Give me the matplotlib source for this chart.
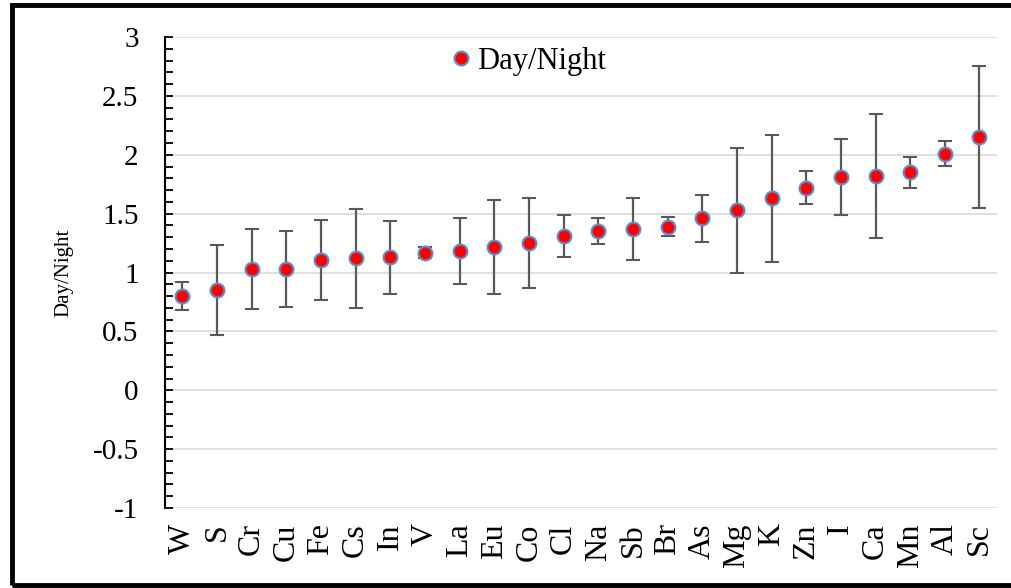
import matplotlib.pyplot as plt
import numpy as np
from matplotlib.ticker import MultipleLocator
from matplotlib.patches import Rectangle
from matplotlib.lines import Line2D

plt.rcParams['font.family'] = ['Liberation Serif', 'DejaVu Serif']

elements = ['W', 'S', 'Cr', 'Cu', 'Fe', 'Cs', 'In', 'V', 'La', 'Eu', 'Co', 'Cl',
            'Na', 'Sb', 'Br', 'As', 'Mg', 'K', 'Zn', 'I', 'Ca', 'Mn', 'Al', 'Sc']
ratio = [0.80, 0.85, 1.03, 1.03, 1.11, 1.12, 1.13, 1.17, 1.18, 1.22, 1.25, 1.31,
         1.35, 1.37, 1.39, 1.46, 1.53, 1.63, 1.72, 1.81, 1.82, 1.85, 2.01, 2.15]
err = [0.12, 0.38, 0.34, 0.32, 0.34, 0.42, 0.31, 0.05, 0.28, 0.40, 0.38, 0.18,
       0.11, 0.26, 0.08, 0.20, 0.53, 0.54, 0.14, 0.32, 0.53, 0.13, 0.105, 0.60]

fig = plt.figure(figsize=(10.12, 5.88), dpi=100)
ax = fig.add_axes([0.163, 0.136, 0.822, 0.801])

dot_style = dict(marker='o', markerfacecolor='red', markeredgecolor='#5b8fd0',
                 markeredgewidth=1.5, markersize=10)

x = np.arange(len(elements))
ax.errorbar(x, ratio, yerr=err, fmt='o', color='#595959', ecolor='#595959',
            elinewidth=1.6, capsize=5, capthick=1.6, zorder=3, **dot_style)

ax.set_xlim(-0.5, len(elements) - 0.5)
ax.set_ylim(-1, 3)
ax.yaxis.set_major_locator(MultipleLocator(0.5))
ax.yaxis.set_minor_locator(MultipleLocator(0.1))
ax.yaxis.set_major_formatter(plt.FuncFormatter(lambda v, p: f'{v:g}'))
ax.grid(axis='y', color='#d9d9d9', linewidth=1.2, zorder=0)
ax.set_axisbelow(True)

ax.set_xticks(x)
ax.set_xticklabels(elements, rotation=90, fontsize=23)
ax.tick_params(axis='x', length=0, pad=11)
ax.tick_params(axis='y', which='both', direction='in', length=6, width=1.3,
               labelsize=21, pad=19)

for s in ['top', 'right', 'bottom']:
    ax.spines[s].set_visible(False)
ax.spines['left'].set_linewidth(1.5)
ax.set_ylabel('Day/Night', fontsize=15, labelpad=14)

handle = Line2D([], [], linestyle='none', **dot_style)
ax.legend([handle], ['Day/Night'], loc='center left', bbox_to_anchor=(0.337, 0.949),
          frameon=False, fontsize=22, handletextpad=0.05, handlelength=1.0,
          borderpad=0, borderaxespad=0)

# outer frame around the chart
fig.patches.append(Rectangle((0.012, 0.005), 1.2, 0.986, transform=fig.transFigure,
                             fill=False, edgecolor='black', linewidth=3.5))

fig.savefig('out.png', dpi=100)
